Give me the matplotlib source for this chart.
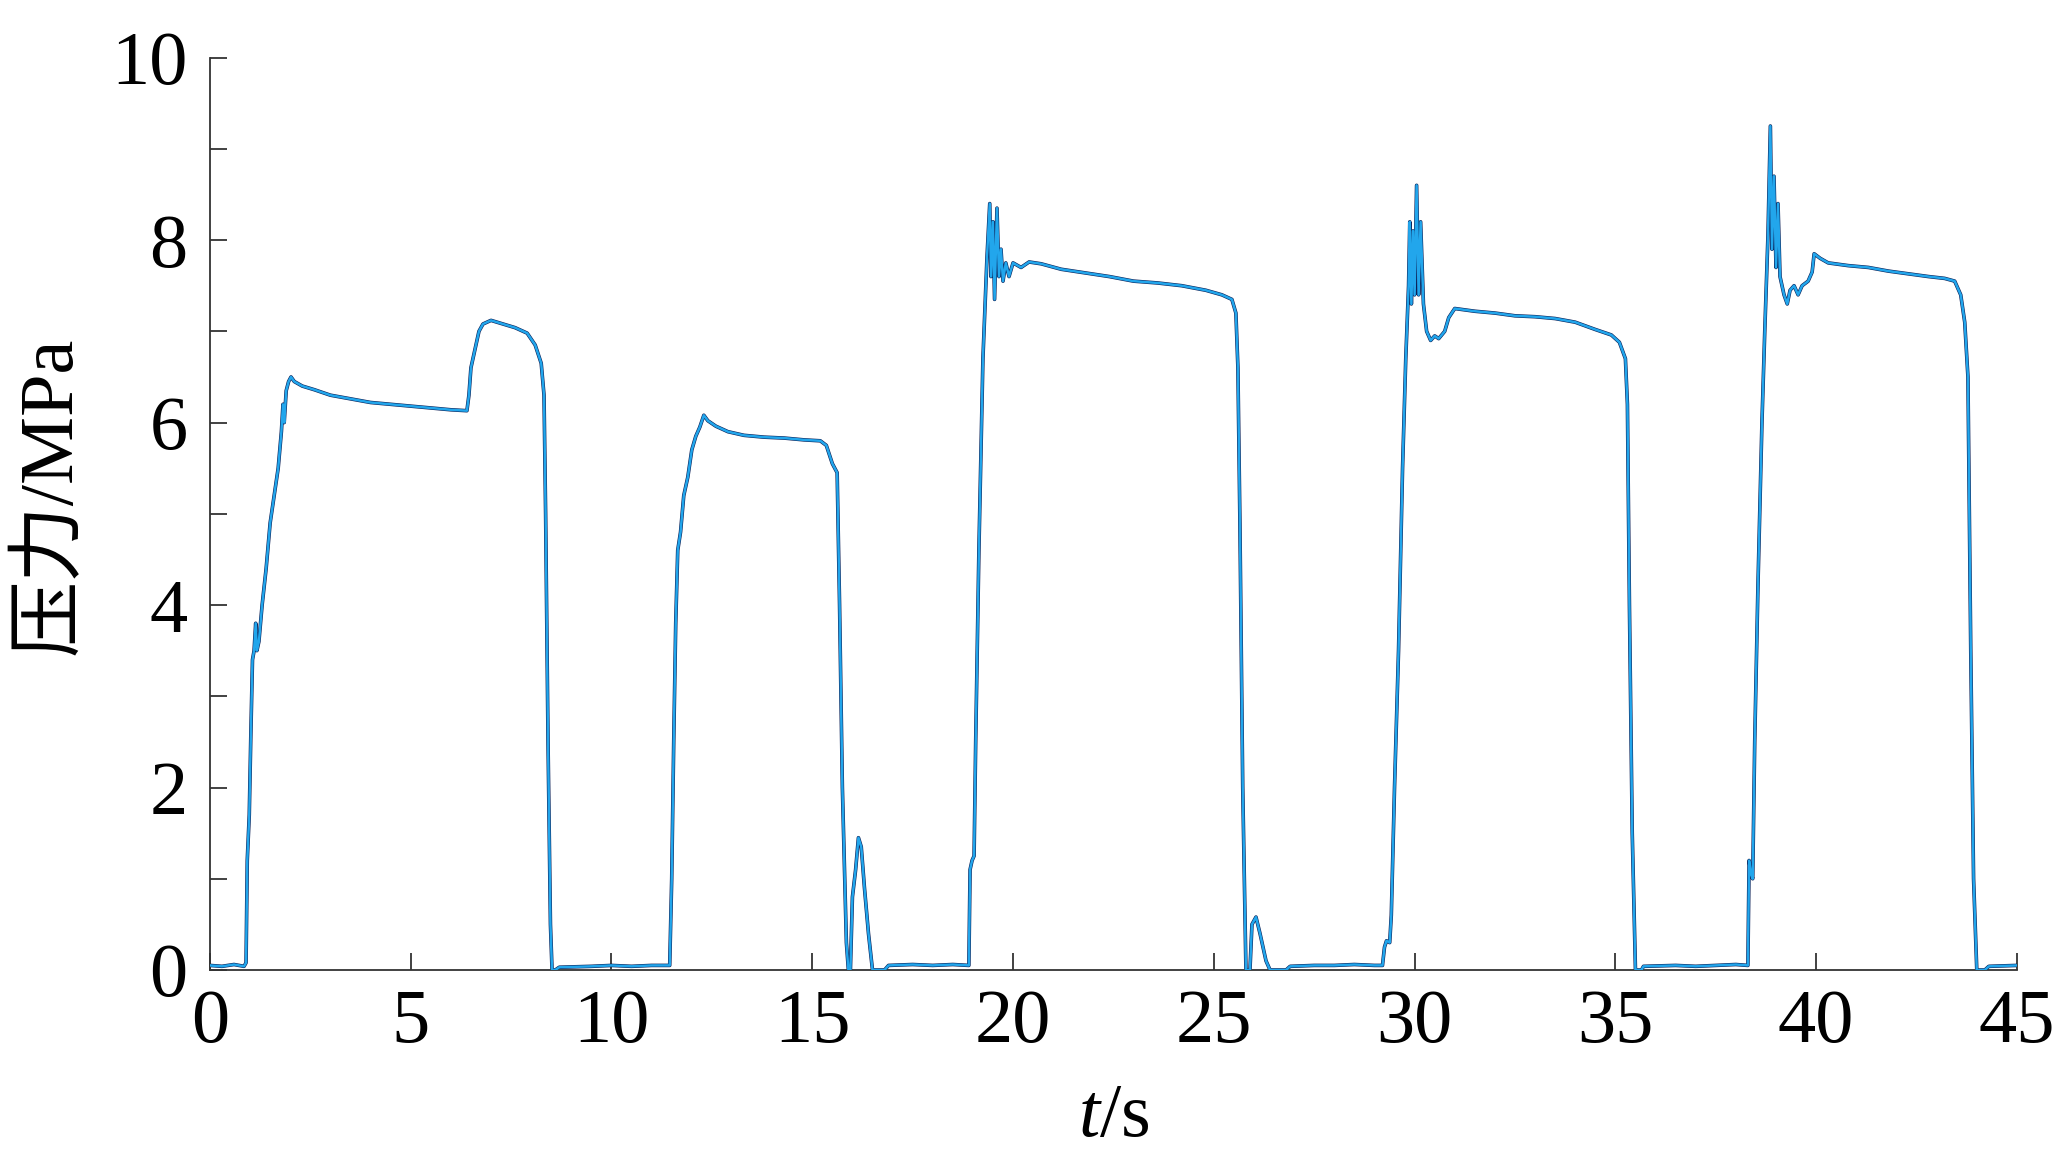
import matplotlib
matplotlib.use("Agg")
import matplotlib.pyplot as plt
import numpy as np

plt.rcParams['font.family'] = ['Liberation Serif', 'Noto Sans CJK SC']
plt.rcParams['mathtext.fontset'] = 'custom'
plt.rcParams['mathtext.rm'] = 'Liberation Serif'
plt.rcParams['mathtext.it'] = 'Liberation Serif:italic'

# time (s) and pressure (MPa)
time_s = [
    0, 0.3, 0.6, 0.85, 0.9,
    0.93, 0.98, 1.02, 1.06, 1.1, 1.14, 1.17, 1.22, 1.3, 1.4, 1.5, 1.6, 1.7, 1.78, 1.82, 1.85, 1.9, 1.96, 2.02,
    2.1, 2.3, 2.6, 3.0, 3.5, 4.0, 4.5, 5.0, 5.5, 6.0, 6.4, 6.45, 6.5, 6.6, 6.7, 6.8, 7.0, 7.3, 7.6, 7.9,
    8.1, 8.25, 8.32, 8.36, 8.42, 8.48, 8.52, 8.6, 8.7, 9.5, 10.0, 10.5, 11.0, 11.45,
    11.5, 11.55, 11.6, 11.65, 11.72, 11.8, 11.9, 12.0, 12.1, 12.2, 12.3, 12.4, 12.6, 12.9, 13.3, 13.8,
    14.3, 14.8, 15.2, 15.35, 15.5, 15.62, 15.68, 15.75, 15.85, 15.9, 15.95, 16.0, 16.08, 16.15, 16.22,
    16.3, 16.4, 16.5, 16.8, 16.9, 17.5, 18.0, 18.5, 18.9,
    18.93, 18.98, 19.03, 19.07, 19.15, 19.25, 19.35, 19.42, 19.45, 19.5, 19.54, 19.6, 19.65, 19.7, 19.75,
    19.82, 19.9, 20.0, 20.2, 20.4, 20.7, 21.2, 21.8, 22.4, 23.0, 23.6, 24.2, 24.8, 25.2, 25.45, 25.55,
    25.6, 25.65, 25.72, 25.8, 25.9, 25.95, 26.05, 26.15, 26.3, 26.4, 26.8, 26.9, 27.5, 28.0, 28.5, 29.0, 29.2,
    29.25, 29.3, 29.38, 29.42, 29.5, 29.6, 29.7, 29.78, 29.85, 29.88, 29.92, 29.96, 30.0, 30.05, 30.1,
    30.15, 30.22, 30.3, 30.4, 30.5, 30.6, 30.75, 30.85, 31.0, 31.5, 32.0, 32.5, 33.0, 33.5, 34.0, 34.5,
    34.9, 35.1, 35.25, 35.3, 35.35, 35.42, 35.5, 35.65, 35.7, 36.5, 37.0, 37.5, 38.0, 38.3,
    38.33, 38.38, 38.42, 38.47, 38.55, 38.65, 38.72, 38.8, 38.86, 38.9, 38.95, 39.0, 39.05, 39.1, 39.2,
    39.28, 39.35, 39.45, 39.55, 39.65, 39.8, 39.9, 39.95, 40.1, 40.3, 40.8, 41.3, 41.8, 42.3, 42.8, 43.2,
    43.45, 43.6, 43.7, 43.78, 43.85, 43.92, 44.0, 44.2, 44.3, 45.0,
]
pressure_mpa = [
    0.05, 0.04, 0.06, 0.04, 0.08,
    1.2, 1.7, 2.6, 3.4, 3.5, 3.8, 3.5, 3.6, 4.0, 4.4, 4.9, 5.2, 5.5, 5.9, 6.2, 6.0, 6.35, 6.45, 6.5,
    6.45, 6.4, 6.36, 6.3, 6.26, 6.22, 6.2, 6.18, 6.16, 6.14, 6.13, 6.3, 6.6, 6.8, 7.0, 7.08, 7.12, 7.08, 7.04, 6.98,
    6.85, 6.65, 6.3, 5.0, 2.5, 0.5, 0.0, 0.0, 0.03, 0.04, 0.05, 0.04, 0.05, 0.05,
    1.0, 2.5, 3.8, 4.6, 4.8, 5.2, 5.4, 5.7, 5.85, 5.95, 6.08, 6.02, 5.96, 5.9, 5.86, 5.84,
    5.83, 5.81, 5.8, 5.75, 5.55, 5.45, 4.0, 2.0, 0.3, 0.0, 0.0, 0.8, 1.1, 1.45, 1.35,
    0.9, 0.4, 0.0, 0.0, 0.05, 0.06, 0.05, 0.06, 0.05,
    1.1, 1.2, 1.25, 2.5, 4.6, 6.7, 7.8, 8.4, 7.6, 8.2, 7.35, 8.35, 7.6, 7.9, 7.55,
    7.75, 7.6, 7.75, 7.7, 7.76, 7.74, 7.68, 7.64, 7.6, 7.55, 7.53, 7.5, 7.45, 7.4, 7.35, 7.2,
    6.6, 4.9, 2.0, 0.0, 0.0, 0.5, 0.58, 0.4, 0.1, 0.0, 0.0, 0.04, 0.05, 0.05, 0.06, 0.05, 0.05,
    0.25, 0.32, 0.3, 0.6, 2.0, 3.5, 5.5, 6.7, 7.5, 8.2, 7.3, 8.1, 7.4, 8.6, 7.4,
    8.2, 7.3, 7.0, 6.9, 6.95, 6.92, 7.0, 7.15, 7.25, 7.22, 7.2, 7.17, 7.16, 7.14, 7.1, 7.02,
    6.96, 6.88, 6.7, 6.2, 4.0, 1.5, 0.0, 0.0, 0.04, 0.05, 0.04, 0.05, 0.06, 0.05,
    1.2, 1.05, 1.0, 2.5, 4.2, 6.0, 7.0, 8.05, 9.25, 7.9, 8.7, 7.7, 8.4, 7.6, 7.4,
    7.3, 7.45, 7.5, 7.4, 7.5, 7.55, 7.65, 7.85, 7.8, 7.75, 7.72, 7.7, 7.66, 7.63, 7.6, 7.58,
    7.55, 7.4, 7.1, 6.5, 3.5, 1.0, 0.0, 0.0, 0.04, 0.05,
]

x_ticks = [0, 5, 10, 15, 20, 25, 30, 35, 40, 45]
y_ticks = [0, 2, 4, 6, 8, 10]
y_minor = [1, 3, 5, 7, 9]

fig = plt.figure(figsize=(20.56, 11.52), dpi=100)
ax = fig.add_axes([0.1021, 0.158, 0.8789, 0.792])

ax.plot(time_s, pressure_mpa, color='#0b1f55', lw=2.6, solid_joinstyle='round', zorder=2)
ax.plot(time_s, pressure_mpa, color='#22a6ec', lw=1.8, solid_joinstyle='round', zorder=3)

ax.set_xlim(0, 45)
ax.set_ylim(0, 10)
ax.set_xticks(x_ticks)
ax.set_yticks(y_ticks)
ax.set_yticks(y_minor, minor=True)

for s in ['top', 'right']:
    ax.spines[s].set_visible(False)
for s in ['left', 'bottom']:
    ax.spines[s].set_linewidth(1.3)
    ax.spines[s].set_color('#333333')

ax.tick_params(axis='both', which='both', direction='in', color='#333333', width=1.3)
ax.tick_params(axis='x', which='major', length=12, labelsize=55, pad=14)
ax.tick_params(axis='y', which='major', length=12, labelsize=55, pad=16)
ax.tick_params(axis='y', which='minor', length=12)

ax.set_xlabel('$t$/s', fontsize=55, labelpad=18)
ax.set_ylabel('压力/MPa', fontsize=55)
ax.yaxis.set_label_coords(-0.068, 0.52)

fig.savefig('out.png', dpi=100)
